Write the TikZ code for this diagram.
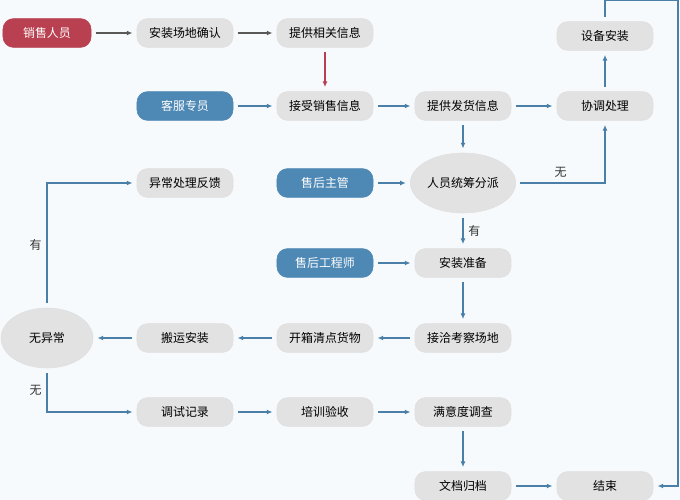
\documentclass[tikz,border=0pt]{standalone}
\usepackage{fontspec}
\setmainfont{Noto Sans CJK SC}
\usepackage{tikz}
\usetikzlibrary{arrows.meta, positioning, shapes.geometric}
\definecolor{flowblue}{RGB}{74,127,168}
\definecolor{roleblue}{RGB}{78,136,180}
\definecolor{salesred}{RGB}{184,64,80}
\definecolor{pillgray}{RGB}{226,226,226}
\definecolor{bgcolor}{RGB}{247,250,252}
\tikzset{
    pill/.style={rectangle,rounded corners=7.5pt,fill=pillgray,draw=black!12,minimum width=2.4cm,minimum height=0.72cm,font=\fontsize{8.5}{10}\selectfont},
    role/.style={pill,fill=roleblue,draw=roleblue,text=white},
    choice/.style={ellipse,fill=pillgray,draw=black!12,minimum width=2.3cm,minimum height=1.5cm,inner sep=1pt,font=\fontsize{8.5}{10}\selectfont},
    flow/.style={-{Latex[length=4pt,width=3.5pt]},line width=1pt,flowblue,shorten <=3pt,shorten >=3pt},
    tag/.style={text=black!80,font=\fontsize{8.5}{10}\selectfont}
}
\begin{document}
\begin{tikzpicture}[x=0.025cm,y=-0.025cm]
    \fill[bgcolor] (0,0) rectangle (680,500);
    \useasboundingbox (0,0) rectangle (680,500);
    % Erste Reihe
    \node[role,fill=salesred,draw=salesred,minimum width=2.2cm] (sales) at (47,33) {销售人员};
    \node[pill] (site) at (185,33) {安装场地确认};
    \node[pill] (info) at (325,33) {提供相关信息};
    \node[role] (service) at (185,106) {客服专员};
    \node[pill] (receive) at (325,106) {接受销售信息};
    \node[pill] (ship) at (463,106) {提供发货信息};
    \node[pill] (coord) at (605,106) {协调处理};
    \node[pill] (install) at (605,36) {设备安装};
    % Mitte
    \node[role] (manager) at (325,183) {售后主管};
    \node[choice] (assign) at (463,183) {人员统筹分派};
    \node[pill] (feedback) at (185,183) {异常处理反馈};
    \node[role] (engineer) at (325,263) {售后工程师};
    \node[pill] (prepare) at (463,263) {安装准备};
    \node[pill] (survey) at (463,338) {接洽考察场地};
    \node[pill] (unpack) at (325,338) {开箱清点货物};
    \node[pill] (carry) at (185,338) {搬运安装};
    \node[choice] (check) at (47,338) {无异常};
    % Unten
    \node[pill] (debug) at (185,412) {调试记录};
    \node[pill] (train) at (325,412) {培训验收};
    \node[pill] (satisfy) at (463,412) {满意度调查};
    \node[pill] (archive) at (463,486) {文档归档};
    \node[pill] (finish) at (605,486) {结束};

    \draw[flow,black!65] (sales) -- (site);
    \draw[flow,black!65] (site) -- (info);
    \draw[flow,salesred] (info) -- (receive);
    \draw[flow] (service) -- (receive);
    \draw[flow] (receive) -- (ship);
    \draw[flow] (ship) -- (coord);
    \draw[flow] (coord) -- (install);
    \draw[flow] (ship) -- (assign);
    \draw[flow] (assign.east) -- (605,183) node[tag,pos=0.5,above] {无} -- (coord);
    \draw[flow] (manager) -- (assign);
    \draw[flow] (assign) -- node[tag,right] {有} (prepare);
    \draw[flow] (engineer) -- (prepare);
    \draw[flow] (prepare) -- (survey);
    \draw[flow] (survey) -- (unpack);
    \draw[flow] (unpack) -- (carry);
    \draw[flow] (carry) -- (check);
    \draw[flow] (check.north) -- node[tag,left,pos=0.5] {有} (47,183) -- (feedback);
    \draw[flow] (check.south) -- node[tag,left,pos=0.5] {无} (47,412) -- (debug);
    \draw[flow] (debug) -- (train);
    \draw[flow] (train) -- (satisfy);
    \draw[flow] (satisfy) -- (archive);
    \draw[flow] (archive) -- (finish);
    \draw[flow] (install.north) -- (605,0) -- (678,0) -- (678,486) -- (finish);
\end{tikzpicture}
\end{document}
